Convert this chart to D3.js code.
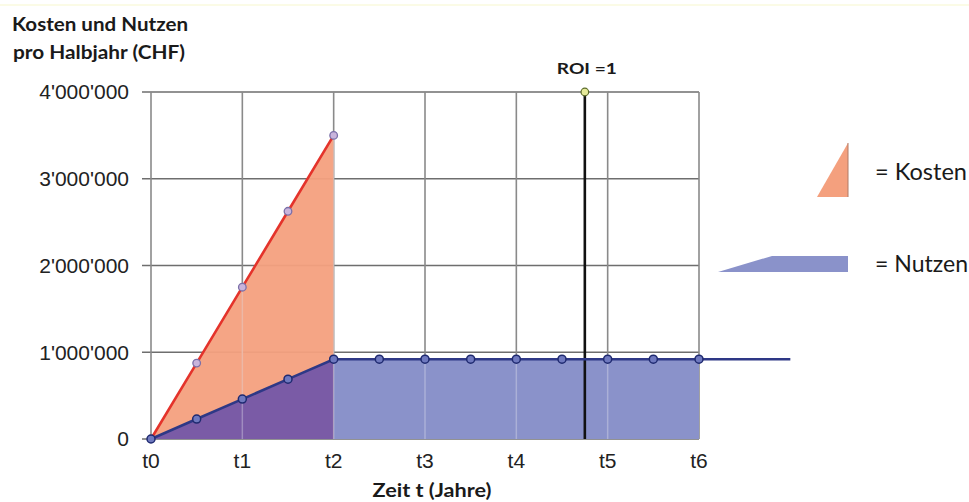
<!DOCTYPE html>
<html>
<head>
<meta charset="utf-8">
<script src="https://cdn.jsdelivr.net/npm/d3@7/dist/d3.min.js"></script>
<style>
  html, body { margin: 0; padding: 0; background: #fff; }
  svg { display: block; }
  .tick-label { font-family: "Liberation Sans", Arial, sans-serif; font-size: 21px; fill: #222; }
  .bold-label { font-family: Lato, "Open Sans", sans-serif; font-weight: 700; fill: #1a1a1a; }
  .legend-label { font-family: Lato, "Open Sans", sans-serif; font-size: 23px; fill: #1a1a1a; }
</style>
</head>
<body>
<svg id="chart" width="969" height="502"></svg>
<script>
// Time axis in years, sampled every half year
const halfYears = [0, 0.5, 1, 1.5, 2, 2.5, 3, 3.5, 4, 4.5, 5, 5.5, 6];
const yearTicks = [0, 1, 2, 3, 4, 5, 6];
const yearTickLabels = ["t0", "t1", "t2", "t3", "t4", "t5", "t6"];

// Costs per half year (CHF), only during the first two years
const kostenTimes = [0, 0.5, 1, 1.5, 2];
const kosten = [0, 875000, 1750000, 2625000, 3500000];

// Benefits per half year (CHF)
const nutzen = [0, 230000, 460000, 690000, 920000, 920000, 920000,
                920000, 920000, 920000, 920000, 920000, 920000];
// The benefit line continues beyond t6 at the same level
const nutzenLineEnd = 7;

// Vertical axis
const yTicks = [0, 1000000, 2000000, 3000000, 4000000];
const yTickLabels = ["0", "1'000'000", "2'000'000", "3'000'000", "4'000'000"];

// Break-even point
const roiTime = 4.75;
const roiLabel = "ROI =1";

const svg = d3.select("#chart");

const x = d3.scaleLinear().domain([0, 6]).range([151, 699]);
const y = d3.scaleLinear().domain([0, 4000000]).range([439, 92]);

// faint header rule
svg.append("line")
  .attr("x1", 0).attr("x2", 969).attr("y1", 5).attr("y2", 5)
  .attr("stroke", "#fbfbe6").attr("stroke-width", 2);

// Titles
function boldText(str, xPos, yPos, size, width, anchor) {
  return svg.append("text").attr("class", "bold-label")
    .attr("x", xPos).attr("y", yPos)
    .attr("font-size", size)
    .attr("text-anchor", anchor || "start")
    .attr("textLength", width).attr("lengthAdjust", "spacingAndGlyphs")
    .text(str);
}
boldText("Kosten und Nutzen", 12, 31, 18, 176);
boldText("pro Halbjahr (CHF)", 13, 59, 18, 172);

// Grid
const grid = svg.append("g");
grid.selectAll("line.h").data(yTicks).join("line")
  .attr("x1", 142).attr("x2", x(6))
  .attr("y1", d => y(d)).attr("y2", d => y(d))
  .attr("stroke", "#6e6e6e").attr("stroke-width", 1.6);
grid.selectAll("line.v").data(yearTicks).join("line")
  .attr("x1", d => x(d)).attr("x2", d => x(d))
  .attr("y1", y(4000000)).attr("y2", y(0))
  .attr("stroke", "#8a8a8a").attr("stroke-width", 1.6);

// Areas
const kostenPts = kostenTimes.map((t, i) => [t, kosten[i]]);
const nutzenPts = halfYears.map((t, i) => [t, nutzen[i]]);

const area = d3.area().x(d => x(d[0])).y0(y(0)).y1(d => y(d[1]));

svg.append("path").datum(kostenPts)
  .attr("d", area).attr("fill", "#f4a07e").attr("opacity", 0.95);

svg.append("path").datum(nutzenPts.filter(d => d[0] <= 2))
  .attr("d", area).attr("fill", "#7a5ba6");
svg.append("path").datum(nutzenPts.filter(d => d[0] >= 2))
  .attr("d", area).attr("fill", "#8a92ca");

// Grid lines showing faintly through the fills
const inner = svg.append("g").attr("opacity", 0.35);
inner.selectAll("line").data(yearTicks.filter(d => d > 0 && d < 6)).join("line")
  .attr("x1", d => x(d)).attr("x2", d => x(d))
  .attr("y1", d => y(d <= 2 ? d * 1750000 : 920000)).attr("y2", y(0))
  .attr("stroke", "#e8e8f0").attr("stroke-width", 1.5);

// ROI line
svg.append("line")
  .attr("x1", x(roiTime)).attr("x2", x(roiTime))
  .attr("y1", y(4000000)).attr("y2", y(0))
  .attr("stroke", "#111").attr("stroke-width", 2.6);

// Lines
const line = d3.line().x(d => x(d[0])).y(d => y(d[1]));
svg.append("path").datum(kostenPts)
  .attr("d", line).attr("fill", "none")
  .attr("stroke", "#e4332b").attr("stroke-width", 2.6);
svg.append("path").datum(nutzenPts.concat([[nutzenLineEnd, nutzen[nutzen.length - 1]]]))
  .attr("d", line).attr("fill", "none")
  .attr("stroke", "#2e3886").attr("stroke-width", 2.6);

// Markers
svg.append("g").selectAll("circle").data(kostenPts.slice(1)).join("circle")
  .attr("cx", d => x(d[0])).attr("cy", d => y(d[1])).attr("r", 3.8)
  .attr("fill", "#c9b4dc").attr("stroke", "#7a6fa8").attr("stroke-width", 1.3);
svg.append("g").selectAll("circle").data(nutzenPts).join("circle")
  .attr("cx", d => x(d[0])).attr("cy", d => y(d[1])).attr("r", 4)
  .attr("fill", "#6f79bf").attr("stroke", "#1f2a70").attr("stroke-width", 1.5);

svg.append("circle")
  .attr("cx", x(roiTime)).attr("cy", y(4000000)).attr("r", 3.8)
  .attr("fill", "#e6ea9a").attr("stroke", "#5b6b2a").attr("stroke-width", 1.2);

boldText(roiLabel, x(roiTime) + 2, 74, 15, 60, "middle");

// Axis labels
svg.append("g").selectAll("text").data(yTicks).join("text")
  .attr("class", "tick-label")
  .attr("x", 129).attr("y", d => y(d)).attr("dy", "0.35em")
  .attr("text-anchor", "end")
  .text((d, i) => yTickLabels[i]);

svg.append("g").selectAll("text").data(yearTicks).join("text")
  .attr("class", "tick-label")
  .attr("x", d => x(d)).attr("y", 468).attr("text-anchor", "middle")
  .text((d, i) => yearTickLabels[i]);

boldText("Zeit t (Jahre)", 432, 497, 19, 119, "middle");

// Legend
svg.append("path")
  .attr("d", "M817,197 L848,197 L848,143 Z")
  .attr("fill", "#f4a07e");
svg.append("line").attr("x1", 848).attr("x2", 848).attr("y1", 143).attr("y2", 197)
  .attr("stroke", "#b07a66").attr("stroke-width", 1);
svg.append("text").attr("class", "legend-label")
  .attr("x", 875).attr("y", 180)
  .attr("textLength", 92).attr("lengthAdjust", "spacingAndGlyphs")
  .text("= Kosten");

svg.append("path")
  .attr("d", "M718,272 L772,256 L848,256 L848,272 Z")
  .attr("fill", "#8a92ca");
svg.append("text").attr("class", "legend-label")
  .attr("x", 875).attr("y", 272)
  .attr("textLength", 93).attr("lengthAdjust", "spacingAndGlyphs")
  .text("= Nutzen");
</script>
</body>
</html>
